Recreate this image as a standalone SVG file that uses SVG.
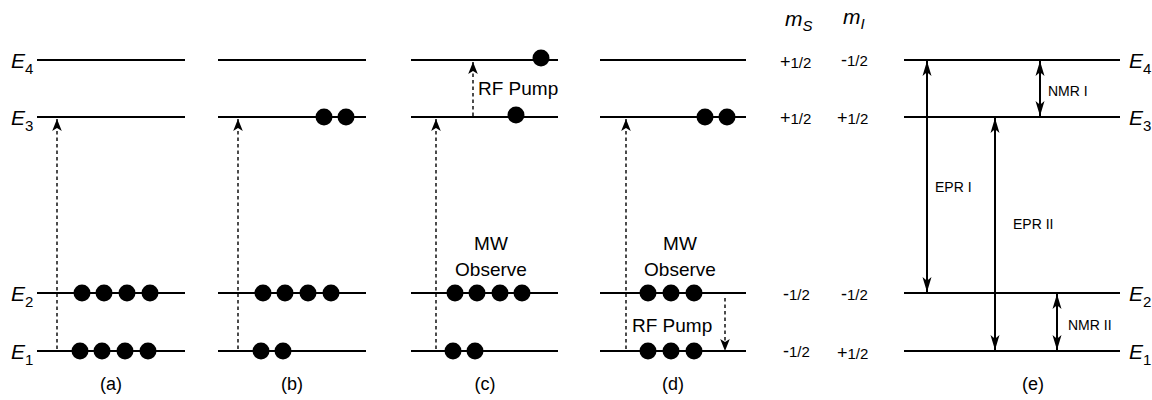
<svg xmlns="http://www.w3.org/2000/svg" width="1152" height="400" viewBox="0 0 1152 400">
<style>
.lv{stroke:#000;stroke-width:2;fill:none}
.dash{stroke:#000;stroke-width:1.4;stroke-dasharray:3.5,3;fill:none}
.solid{stroke:#000;stroke-width:2;fill:none}
text,tspan{fill:#000}
.t{font-family:"Liberation Sans",Arial,sans-serif}
.e{font-family:"Liberation Sans",Arial,sans-serif;font-style:italic;font-size:21px}
.sub{font-size:15px;font-style:normal}
.subi{font-size:15px;font-style:italic}
.big{font-size:19px}
.lb{font-size:18px}
.sm{font-size:14px}
.fr{font-size:15px}
.q{font-size:18px}
</style>
<defs>
<marker id="ah" viewBox="0 0 10 10" refX="10" refY="5" markerWidth="12" markerHeight="12" markerUnits="userSpaceOnUse" orient="auto">
<path d="M0,1 L10,5 L0,9 L2.5,5 Z" fill="#000"/>
</marker>
<marker id="ahs" viewBox="0 0 10 10" refX="10" refY="5" markerWidth="15" markerHeight="15" markerUnits="userSpaceOnUse" orient="auto-start-reverse">
<path d="M0,2 L10,5 L0,8 L2.5,5 Z" fill="#000"/>
</marker>
</defs>

<g id="panel-a">
<text class="e" x="11" y="68">E<tspan class="sub" dy="6">4</tspan></text>
<text class="e" x="11" y="125">E<tspan class="sub" dy="6">3</tspan></text>
<text class="e" x="11" y="301">E<tspan class="sub" dy="6">2</tspan></text>
<text class="e" x="11" y="359">E<tspan class="sub" dy="6">1</tspan></text>
<line class="lv" x1="37" y1="60" x2="185" y2="60"/>
<line class="lv" x1="37" y1="117" x2="185" y2="117"/>
<line class="lv" x1="37" y1="293" x2="185" y2="293"/>
<line class="lv" x1="37" y1="351" x2="185" y2="351"/>
<g fill="#000">
<circle cx="82" cy="293" r="8.5"/><circle cx="104" cy="293" r="8.5"/><circle cx="127" cy="293" r="8.5"/><circle cx="150" cy="293" r="8.5"/>
<circle cx="80" cy="351" r="8.5"/><circle cx="102" cy="351" r="8.5"/><circle cx="125" cy="351" r="8.5"/><circle cx="148" cy="351" r="8.5"/>
</g>
<text class="t lb" x="111" y="390" text-anchor="middle">(a)</text>
</g>

<g id="panel-b">
<line class="lv" x1="218" y1="60" x2="366" y2="60"/>
<line class="lv" x1="218" y1="117" x2="366" y2="117"/>
<line class="lv" x1="218" y1="293" x2="366" y2="293"/>
<line class="lv" x1="218" y1="351" x2="366" y2="351"/>
<g fill="#000">
<circle cx="324" cy="117" r="8.5"/><circle cx="346" cy="117" r="8.5"/>
<circle cx="263" cy="293" r="8.5"/><circle cx="285" cy="293" r="8.5"/><circle cx="308" cy="293" r="8.5"/><circle cx="331" cy="293" r="8.5"/>
<circle cx="261" cy="351" r="8.5"/><circle cx="283" cy="351" r="8.5"/>
</g>
<text class="t lb" x="292" y="390" text-anchor="middle">(b)</text>
</g>

<g id="panel-c">
<line class="lv" x1="411" y1="60" x2="558" y2="60"/>
<line class="lv" x1="411" y1="117" x2="558" y2="117"/>
<line class="lv" x1="411" y1="293" x2="558" y2="293"/>
<line class="lv" x1="411" y1="351" x2="558" y2="351"/>
<g fill="#000">
<circle cx="541" cy="58" r="8.5"/>
<circle cx="516" cy="115" r="8.5"/>
<circle cx="455" cy="293" r="8.5"/><circle cx="477" cy="293" r="8.5"/><circle cx="500" cy="293" r="8.5"/><circle cx="522" cy="293" r="8.5"/>
<circle cx="453" cy="351" r="8.5"/><circle cx="475" cy="351" r="8.5"/>
</g>
<text class="t big" x="478" y="95">RF Pump</text>
<text class="t big" x="491" y="250" text-anchor="middle">MW</text>
<text class="t big" x="491" y="276" text-anchor="middle">Observe</text>
<text class="t lb" x="485" y="390" text-anchor="middle">(c)</text>
</g>

<g id="panel-d">
<line class="lv" x1="600" y1="60" x2="746" y2="60"/>
<line class="lv" x1="600" y1="117" x2="746" y2="117"/>
<line class="lv" x1="600" y1="293" x2="746" y2="293"/>
<line class="lv" x1="600" y1="351" x2="746" y2="351"/>
<g fill="#000">
<circle cx="705" cy="117" r="8.5"/><circle cx="727" cy="117" r="8.5"/>
<circle cx="648" cy="293" r="8.5"/><circle cx="671" cy="293" r="8.5"/><circle cx="694" cy="293" r="8.5"/>
<circle cx="648" cy="351" r="8.5"/><circle cx="671" cy="351" r="8.5"/><circle cx="694" cy="351" r="8.5"/>
</g>
<text class="t big" x="632" y="332">RF Pump</text>
<text class="t big" x="680" y="250" text-anchor="middle">MW</text>
<text class="t big" x="680" y="276" text-anchor="middle">Observe</text>
<text class="t lb" x="673" y="390" text-anchor="middle">(d)</text>
</g>

<g id="quantum-numbers">
<text class="e" x="785" y="26">m<tspan class="subi" dy="5">S</tspan></text>
<text class="e" x="843" y="24">m<tspan class="subi" dy="5">I</tspan></text>
<text class="t" x="780" y="68"><tspan class="q">+</tspan><tspan class="fr">1/2</tspan></text>
<text class="t" x="841" y="66"><tspan class="q">-</tspan><tspan class="fr">1/2</tspan></text>
<text class="t" x="780" y="124"><tspan class="q">+</tspan><tspan class="fr">1/2</tspan></text>
<text class="t" x="837" y="124"><tspan class="q">+</tspan><tspan class="fr">1/2</tspan></text>
<text class="t" x="783" y="300"><tspan class="q">-</tspan><tspan class="fr">1/2</tspan></text>
<text class="t" x="841" y="300"><tspan class="q">-</tspan><tspan class="fr">1/2</tspan></text>
<text class="t" x="783" y="357"><tspan class="q">-</tspan><tspan class="fr">1/2</tspan></text>
<text class="t" x="837" y="359"><tspan class="q">+</tspan><tspan class="fr">1/2</tspan></text>
</g>

<g id="panel-e">
<line class="lv" x1="904" y1="60" x2="1120" y2="60"/>
<line class="lv" x1="904" y1="117" x2="1120" y2="117"/>
<line class="lv" x1="904" y1="293" x2="1120" y2="293"/>
<line class="lv" x1="904" y1="351" x2="1120" y2="351"/>
<text class="e" x="1129" y="68">E<tspan class="sub" dy="6">4</tspan></text>
<text class="e" x="1129" y="125">E<tspan class="sub" dy="6">3</tspan></text>
<text class="e" x="1129" y="301">E<tspan class="sub" dy="6">2</tspan></text>
<text class="e" x="1129" y="359">E<tspan class="sub" dy="6">1</tspan></text>
<text class="t sm" x="1048" y="96">NMR I</text>
<text class="t sm" x="935" y="192">EPR I</text>
<text class="t sm" x="1013" y="229">EPR II</text>
<text class="t sm" x="1068" y="330">NMR II</text>
<text class="t lb" x="1033" y="390" text-anchor="middle">(e)</text>
</g>

<g id="connectors">
<line class="dash" x1="57" y1="349" x2="57" y2="119" marker-end="url(#ah)"/>
<line class="dash" x1="238" y1="349" x2="238" y2="119" marker-end="url(#ah)"/>
<line class="dash" x1="436" y1="349" x2="436" y2="119" marker-end="url(#ah)"/>
<line class="dash" x1="473" y1="116" x2="473" y2="62" marker-end="url(#ah)"/>
<line class="dash" x1="626" y1="349" x2="626" y2="119" marker-end="url(#ah)"/>
<line class="dash" x1="725" y1="298" x2="725" y2="351" marker-end="url(#ah)"/>
<line class="solid" x1="927" y1="61" x2="927" y2="292" marker-start="url(#ahs)" marker-end="url(#ahs)"/>
<line class="solid" x1="995" y1="118" x2="995" y2="350" marker-start="url(#ahs)" marker-end="url(#ahs)"/>
<line class="solid" x1="1040" y1="61" x2="1040" y2="116" marker-start="url(#ahs)" marker-end="url(#ahs)"/>
<line class="solid" x1="1057" y1="294" x2="1057" y2="350" marker-start="url(#ahs)" marker-end="url(#ahs)"/>
</g>
</svg>
